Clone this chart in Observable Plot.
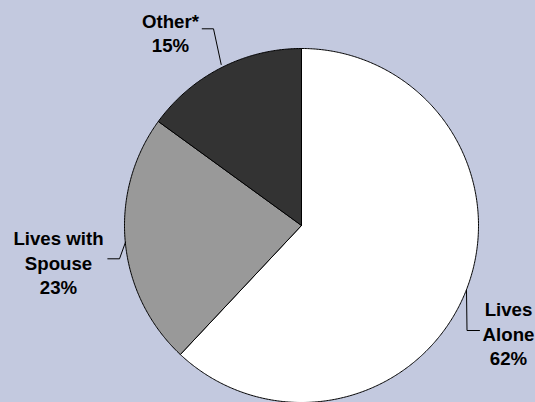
<!DOCTYPE html>
<html>
<head>
<meta charset="utf-8">
<script src="https://cdn.jsdelivr.net/npm/d3@7"></script>
<script src="https://cdn.jsdelivr.net/npm/@observablehq/plot@0.6"></script>
<style>
  html, body { margin: 0; padding: 0; background: #c3c9df; }
  #chart { width: 535px; height: 402px; overflow: hidden; }
</style>
</head>
<body>
<div id="chart"></div>
<script>
// ---- data ----
const categories = ["Lives Alone", "Lives with Spouse", "Other*"];
const values = [62, 23, 15];
const labelTexts = ["Lives\nAlone\n62%", "Lives with\nSpouse\n23%", "Other*\n15%"];
const sliceColors = ["#ffffff", "#999999", "#333333"];

// ---- layout (pixel geometry of the frame) ----
const W = 535, H = 402;
const CX = 301, CY = 225, R = 177;
const toX = px => (px - CX) / R;
const toY = py => (CY - py) / R;

// label anchor (text centre x, cap-top y) in pixels
const labelAnchors = {
  "Lives Alone": [508, 298.5],
  "Lives with Spouse": [58, 227.5],
  "Other*": [170, 10]
};
// leader polylines in pixels
const leaderPaths = {
  "Lives Alone": [[466, 290], [466.5, 330], [479, 330]],
  "Lives with Spouse": [[125, 241.7], [119, 258.3], [107.3, 258.3]],
  "Other*": [[220.7, 64], [213, 28.3], [201.7, 28.3]]
};

// ---- build slices through d3.pie ----
const arcs = d3.pie().sort(null).startAngle(0).endAngle(2 * Math.PI)(values);
const slicePts = [];
arcs.forEach((a, i) => {
  const cat = categories[i];
  slicePts.push({cat, x: 0, y: 0});
  const n = Math.max(2, Math.ceil((a.endAngle - a.startAngle) / (Math.PI / 360)));
  for (let k = 0; k <= n; k++) {
    const t = a.startAngle + (a.endAngle - a.startAngle) * k / n;
    slicePts.push({cat, x: Math.sin(t), y: Math.cos(t)});
  }
  slicePts.push({cat, x: 0, y: 0});
});

const labelData = categories.map((c, i) => ({
  cat: c, text: labelTexts[i],
  x: toX(labelAnchors[c][0]), y: toY(labelAnchors[c][1])
}));
const leaderData = [];
categories.forEach(c => leaderPaths[c].forEach(p => leaderData.push({cat: c, x: toX(p[0]), y: toY(p[1])})));

const chart = Plot.plot({
  width: W, height: H,
  margin: 0,
  style: {background: "#c3c9df", overflow: "visible"},
  x: {domain: [toX(0), toX(W)], range: [0, W], axis: null},
  y: {domain: [toY(H), toY(0)], range: [H, 0], axis: null},
  color: {domain: categories, range: sliceColors},
  marks: [
    Plot.line(slicePts, {x: "x", y: "y", z: "cat", fill: "cat", stroke: "black", strokeWidth: 1, strokeLinejoin: "round", curve: "linear"}),
    Plot.line(leaderData, {x: "x", y: "y", z: "cat", stroke: "black", strokeWidth: 1}),
    Plot.text(labelData, {x: "x", y: "y", text: "text", lineAnchor: "top", lineHeight: 1.3,
      fontSize: 18.67, fontWeight: "bold", fontFamily: "Arial, 'Liberation Sans', sans-serif", fill: "black"})
  ]
});
document.getElementById("chart").appendChild(chart);
</script>
</body>
</html>
